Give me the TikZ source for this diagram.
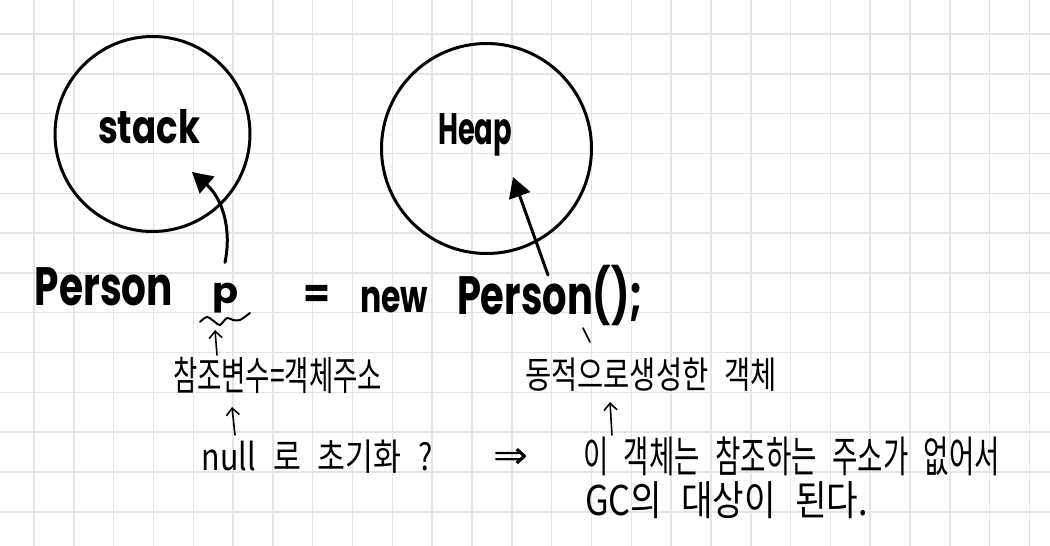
\documentclass[tikz,border=0pt]{standalone}
\usepackage{fontspec}
\setmainfont{Poppins}
\newfontfamily\kr[WordSpace=2.5]{Noto Sans CJK KR}
\newfontfamily\dv{DejaVu Sans}
\usetikzlibrary{arrows.meta}
\definecolor{gridc}{HTML}{E4E4E4}
\newcommand{\fitw}[2]{\resizebox{#1}{\height}{#2}}
\tikzset{
  hand/.style={inner sep=0pt, anchor=base},
  note/.style={inner sep=0pt, font=\kr\fontsize{40}{40}\selectfont},
  ring/.style={circle, draw, line width=3pt, inner sep=0pt},
  bigarrow/.style={line width=3pt, line cap=round, -{Triangle[length=20pt,width=22pt]}},
  thinarrow/.style={line width=1.6pt, line cap=round, -{Straight Barb[length=7pt,width=13pt]}},
  gridline/.style={gridc, line width=1.5pt},
}
\begin{document}
\begin{tikzpicture}[x=1pt,y=-1pt]
\useasboundingbox (0,0) rectangle (1050,546);
\fill[white] (0,0) rectangle (1050,546);
% grid paper
\foreach \i in {0,...,25} \draw[gridline] ({34+39.82*\i},0) -- ++(0,546);
\foreach \j in {0,...,12} \draw[gridline] (0,{34+39.82*\j}) -- ++(1050,0);

% circles
\node[ring, minimum size=195pt] (stack) at (152.5,134) {};
\node[ring, minimum size=210pt] (heap) at (486.5,148.5) {};
\node[hand, font=\bfseries\fontsize{46}{46}\selectfont] (stacktxt) at (149,143) {\fitw{102pt}{stack}};
\node[hand, font=\bfseries\fontsize{44}{44}\selectfont] (heaptxt) at (475,144) {\fitw{74pt}{Heap}};

% code line
\node[hand, font=\bfseries\fontsize{54}{54}\selectfont] (person1) at (104,305) {\fitw{138pt}{Person}};
\node[hand, font=\bfseries\fontsize{36}{36}\selectfont] (p) at (225,303) {\fitw{26pt}{p}};
\node[hand, font=\bfseries\fontsize{40}{40}\selectfont] (eq) at (316.5,307) {\fitw{27pt}{=}};
\node[hand, font=\bfseries\fontsize{45}{45}\selectfont] (new) at (394,312) {\fitw{68pt}{new}};
\node[hand, font=\bfseries\fontsize{54}{54}\selectfont] (person2) at (550,314) {\fitw{186pt}{Person();}};

% squiggle under p
\draw[line width=2pt, line cap=round] plot[smooth] coordinates {(200,322) (207,317) (215,322) (220,325) (227,318) (233,320) (240,320) (250,313)};
% small tick
\draw[line width=1.6pt, line cap=round] (583,328) -- (590,342);

% notes
\node[note] (refvar) at (277.5,375) {\fitw{209pt}{참조변수=객체주소}};
\node[note, font=\kr\fontsize{37}{37}\selectfont] (dyn) at (651,375) {\fitw{252pt}{동적으로생성한 객체}};
\node[note, font=\kr\fontsize{37}{37}\selectfont] (null) at (317.5,457) {\fitw{231pt}{null 로 초기화 ?}};
\node[inner sep=0pt, font=\dv\fontsize{38}{38}\selectfont] (impl) at (510.5,458) {\fitw{35pt}{⇒}};
\node[note, font=\kr\fontsize{43}{43}\selectfont] (gc1) at (791.5,456) {\fitw{417pt}{이 객체는 참조하는 주소가 없어서}};
\node[note, font=\kr\fontsize{41}{41}\selectfont] (gc2) at (726.5,500) {\fitw{283pt}{GC의 대상이 된다.}};

% arrows
\coordinate (stacktip) at (192,172);
\coordinate (heapfrom) at (548,275);
\coordinate (heaptip) at (513,177);
\coordinate (a1from) at (217,355);
\coordinate (a1to) at (215,330);
\coordinate (a2from) at (235,435);
\coordinate (a2to) at (232,407);
\coordinate (a3from) at (612,435);
\coordinate (a3to) at (610,402);
\draw[bigarrow] ([yshift=20pt]p.north) .. controls (232,228) and (222,198) .. (stacktip);
\draw[bigarrow] (heapfrom) -- (heaptip);
\draw[thinarrow] (a1from) -- (a1to);
\draw[thinarrow] (a2from) -- (a2to);
\draw[thinarrow] (a3from) -- (a3to);
\end{tikzpicture}
\end{document}
